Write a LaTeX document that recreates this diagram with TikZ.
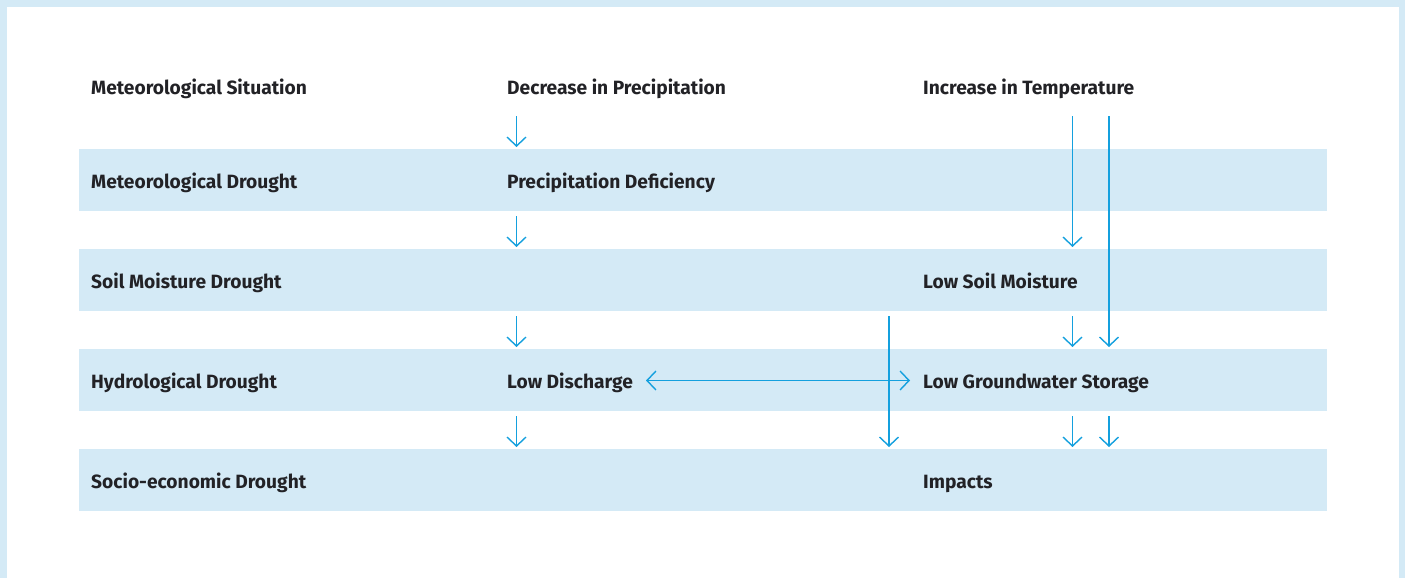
\documentclass[tikz,border=0pt]{standalone}
\usepackage{fontspec}
\setmainfont{Fira Sans}
\usetikzlibrary{arrows.meta}
\definecolor{bandblue}{RGB}{212,234,246}
\definecolor{arrowblue}{RGB}{20,160,222}
\definecolor{txt}{RGB}{34,34,38}
\tikzset{
  lbl/.style={anchor=base west, inner sep=0pt, text=txt, font=\fontsize{19.2}{21}\selectfont\bfseries},
  band/.style={fill=bandblue, draw=none},
  flow/.style={draw=arrowblue, line width=1.4pt, -{Straight Barb[length=9pt,width=19pt,line width=1.4pt]}},
  flow2/.style={draw=arrowblue, line width=1.4pt, {Straight Barb[length=9pt,width=19pt,line width=1.4pt]}-{Straight Barb[length=9pt,width=19pt,line width=1.4pt]}}
}
\begin{document}
\begin{tikzpicture}[x=1pt,y=-1pt]
\useasboundingbox (0,0) rectangle (1405,578);
\fill[bandblue] (0,0) rectangle (1405,578);
\fill[white] (7,7) rectangle (1399,578);
% bands
\foreach \y in {149,249,349,449} {\fill[bandblue] (79,\y) rectangle (1327,\y+62);}
% row 1
\node[lbl] (ms) at (91,94) {Meteorological Situation};
\node[lbl] (dp) at (507,94) {Decrease in Precipitation};
\node[lbl] (it) at (923,94) {Increase in Temperature};
% row 2
\node[lbl] (md) at (91,188) {Meteorological Drought};
\node[lbl] (pd) at (507,188) {Precipitation Deficiency};
% row 3
\node[lbl] (sd) at (91,288) {Soil Moisture Drought};
\node[lbl] (ls) at (923,288) {Low Soil Moisture};
% row 4
\node[lbl] (hd) at (91,388) {Hydrological Drought};
\node[lbl] (ld) at (507,388) {Low Discharge};
\node[lbl] (lg) at (923,388) {Low Groundwater Storage};
% row 5
\node[lbl] (se) at (91,488) {Socio-economic Drought};
\node[lbl] (im) at (923,488) {Impacts};
% arrow end points
\coordinate (a1s) at (516.5,116); \coordinate (a1e) at (516.5,147);
\coordinate (a2s) at (516.5,216); \coordinate (a2e) at (516.5,247);
\coordinate (a3s) at (516.5,316); \coordinate (a3e) at (516.5,347);
\coordinate (a4s) at (516.5,416); \coordinate (a4e) at (516.5,447);
\coordinate (t1s) at (1072.5,116); \coordinate (t1e) at (1072.5,247);
\coordinate (t2s) at (1109,116); \coordinate (t2e) at (1109,347);
\coordinate (s1s) at (1072.5,316); \coordinate (s1e) at (1072.5,347);
\coordinate (g1s) at (1072.5,416); \coordinate (g1e) at (1072.5,447);
\coordinate (g2s) at (1109,416); \coordinate (g2e) at (1109,447);
\coordinate (vs) at (889,316); \coordinate (ve) at (889,447);
\coordinate (hl) at (646,380.5); \coordinate (hr) at (910,380.5);
% arrows
\draw[flow] (a1s) -- (a1e);
\draw[flow] (a2s) -- (a2e);
\draw[flow] (a3s) -- (a3e);
\draw[flow] (a4s) -- (a4e);
\draw[flow] (t1s) -- (t1e);
\draw[flow] (t2s) -- (t2e);
\draw[flow] (s1s) -- (s1e);
\draw[flow] (g1s) -- (g1e);
\draw[flow] (g2s) -- (g2e);
\draw[flow] (vs) -- (ve);
\draw[flow2] (hl) -- (hr);
\end{tikzpicture}
\end{document}
